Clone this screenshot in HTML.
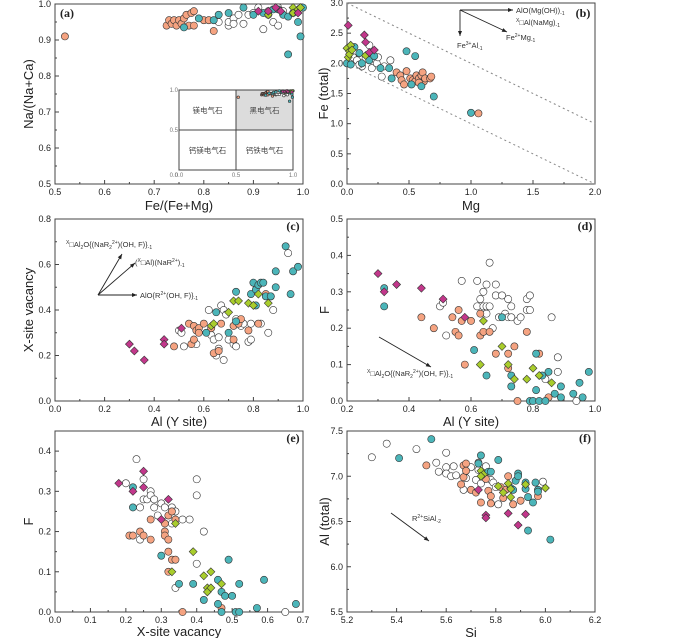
<!DOCTYPE html>
<html><head><meta charset="utf-8"><style>
html,body{margin:0;padding:0;background:#fff;}
svg{display:block;font-family:"Liberation Sans","Noto Sans CJK SC",sans-serif;}
</style></head><body>
<svg id="chart" width="700" height="638" viewBox="0 0 700 638" xmlns="http://www.w3.org/2000/svg"></svg>
<script>
// ---- Panel a: Fe/(Fe+Mg) vs Na/(Na+Ca)
const aSalmon=[[0.52,0.91],[0.725,0.94],[0.73,0.955],[0.735,0.945],[0.74,0.955],[0.745,0.94],[0.75,0.955],[0.755,0.945],[0.76,0.96],[0.765,0.97],[0.77,0.94],[0.775,0.975],[0.78,0.98],[0.78,0.94],[0.80,0.955],[0.81,0.955],[0.82,0.925]];
const aTeal=[[0.76,0.935],[0.79,0.96],[0.82,0.955],[0.83,0.97],[0.85,0.975],[0.88,0.99],[0.90,0.97],[0.92,0.975],[0.94,0.985],[0.95,0.985],[0.96,0.97],[0.97,0.965],[0.98,0.975],[0.99,0.95],[0.995,0.91],[0.97,0.86],[1.0,0.99]];
const aWhite=[[0.83,0.95],[0.85,0.94],[0.85,0.95],[0.86,0.96],[0.86,0.945],[0.87,0.97],[0.88,0.945],[0.89,0.97],[0.9,0.975],[0.91,0.99],[0.92,0.93],[0.93,0.97],[0.94,0.95],[0.95,0.94],[0.95,0.99],[0.96,0.98],[0.93,0.98]];
const aMagenta=[[0.91,0.98],[0.93,0.98],[0.945,0.99],[0.955,0.98],[0.99,0.975]];
const aGreen=[[0.93,0.97],[0.98,0.99],[0.99,0.985],[0.995,0.99],[0.98,0.975]];
// ---- Panel b: Mg vs Fe(total)
const bSalmon=[[0.4,1.85],[0.43,1.8],[0.44,1.72],[0.46,1.65],[0.48,1.87],[0.51,1.75],[0.53,1.72],[0.55,1.7],[0.56,1.8],[0.58,1.75],[0.6,1.8],[0.61,1.85],[0.62,1.7],[0.63,1.75],[0.67,1.75],[0.68,1.78],[0.58,1.68],[1.06,1.17]];
const bTeal=[[0.0,2.0],[0.03,1.98],[0.06,2.27],[0.1,2.17],[0.12,2.0],[0.18,2.05],[0.22,2.12],[0.27,1.92],[0.34,1.92],[0.36,1.75],[0.48,2.2],[0.55,2.12],[0.52,1.65],[0.6,1.62],[0.7,1.45],[1.0,1.18]];
const bWhite=[[0.05,2.1],[0.08,2.05],[0.12,1.95],[0.15,2.08],[0.2,1.92],[0.24,2.0],[0.28,1.78],[0.3,1.95],[0.35,2.05],[0.25,2.1],[0.18,2.3],[0.1,1.98]];
const bMagenta=[[0.01,2.63],[0.14,2.47],[0.15,2.35],[0.18,2.18],[0.22,2.22]];
const bGreen=[[0.0,2.25],[0.02,2.2],[0.01,2.1],[0.03,2.3],[0.02,2.15],[0.04,2.22],[0.15,2.13]];
// ---- Panel c: Al(Y) vs X-site vacancy
const cSalmon=[[0.48,0.24],[0.54,0.34],[0.55,0.25],[0.56,0.27],[0.56,0.33],[0.57,0.31],[0.58,0.32],[0.58,0.30],[0.60,0.34],[0.63,0.32],[0.64,0.21],[0.66,0.22],[0.67,0.34],[0.72,0.27],[0.72,0.33],[0.74,0.34],[0.75,0.36],[0.78,0.31],[0.82,0.34],[0.85,0.47]];
const cTeal=[[0.61,0.30],[0.65,0.39],[0.70,0.30],[0.73,0.35],[0.73,0.48],[0.79,0.47],[0.80,0.52],[0.81,0.49],[0.82,0.51],[0.83,0.52],[0.84,0.52],[0.81,0.42],[0.85,0.46],[0.87,0.46],[0.89,0.5],[0.89,0.57],[0.93,0.68],[0.95,0.47],[0.96,0.57],[0.98,0.59]];
const cWhite=[[0.50,0.31],[0.51,0.30],[0.52,0.24],[0.57,0.25],[0.62,0.40],[0.63,0.29],[0.64,0.27],[0.65,0.20],[0.66,0.28],[0.66,0.23],[0.67,0.42],[0.68,0.18],[0.68,0.40],[0.69,0.38],[0.70,0.27],[0.72,0.25],[0.73,0.24],[0.73,0.36],[0.75,0.33],[0.76,0.34],[0.78,0.26],[0.79,0.27],[0.79,0.34],[0.83,0.34],[0.86,0.30],[0.88,0.40],[0.87,0.46],[0.94,0.65]];
const cMagenta=[[0.30,0.25],[0.32,0.22],[0.36,0.18],[0.44,0.27],[0.44,0.25],[0.51,0.32]];
const cGreen=[[0.63,0.33],[0.64,0.34],[0.70,0.39],[0.72,0.44],[0.74,0.44],[0.78,0.43],[0.80,0.42],[0.82,0.47],[0.86,0.43]];
// ---- Panel d: Al(Y) vs F
const dSalmon=[[0.44,0.23],[0.48,0.20],[0.54,0.23],[0.55,0.19],[0.56,0.25],[0.56,0.18],[0.57,0.22],[0.58,0.10],[0.60,0.22],[0.63,0.24],[0.63,0.18],[0.64,0.19],[0.66,0.19],[0.68,0.13],[0.72,0.13],[0.72,0.09],[0.74,0.15],[0.75,0.0],[0.78,0.19],[0.82,0.13],[0.85,0.01]];
const dTeal=[[0.32,0.31],[0.32,0.26],[0.61,0.14],[0.65,0.07],[0.70,0.23],[0.73,0.07],[0.73,0.04],[0.79,0.0],[0.80,0.0],[0.81,0.13],[0.81,0.03],[0.82,0.0],[0.83,0.07],[0.84,0.0],[0.85,0.08],[0.87,0.02],[0.89,0.04],[0.89,0.01],[0.93,0.02],[0.95,0.05],[0.96,0.01],[0.98,0.08]];
const dWhite=[[0.50,0.26],[0.51,0.27],[0.52,0.18],[0.57,0.33],[0.62,0.33],[0.62,0.26],[0.63,0.28],[0.64,0.30],[0.64,0.26],[0.65,0.32],[0.65,0.24],[0.65,0.26],[0.66,0.38],[0.66,0.26],[0.67,0.20],[0.68,0.32],[0.68,0.29],[0.69,0.23],[0.70,0.29],[0.71,0.24],[0.72,0.28],[0.72,0.23],[0.73,0.26],[0.73,0.23],[0.75,0.22],[0.76,0.23],[0.78,0.28],[0.78,0.25],[0.79,0.29],[0.79,0.25],[0.84,0.06],[0.86,0.23],[0.88,0.12],[0.88,0.08],[0.94,0.0]];
const dMagenta=[[0.30,0.35],[0.32,0.30],[0.36,0.32],[0.44,0.31],[0.51,0.28],[0.58,0.23]];
const dGreen=[[0.64,0.22],[0.63,0.10],[0.70,0.15],[0.72,0.10],[0.74,0.06],[0.78,0.06],[0.80,0.09],[0.82,0.07],[0.86,0.05]];
// ---- Panel e: X-site vacancy vs F
const eSalmon=[[0.21,0.19],[0.22,0.19],[0.24,0.20],[0.25,0.19],[0.27,0.23],[0.27,0.18],[0.31,0.22],[0.31,0.20],[0.31,0.19],[0.32,0.18],[0.32,0.24],[0.33,0.25],[0.32,0.15],[0.33,0.13],[0.34,0.13],[0.32,0.10],[0.34,0.23],[0.36,0.0],[0.47,0.01]];
const eTeal=[[0.22,0.31],[0.22,0.26],[0.30,0.14],[0.35,0.07],[0.39,0.07],[0.42,0.03],[0.46,0.08],[0.46,0.02],[0.47,0.05],[0.47,0.0],[0.48,0.04],[0.49,0.13],[0.50,0.04],[0.51,0.0],[0.52,0.0],[0.52,0.07],[0.57,0.01],[0.59,0.08],[0.68,0.02]];
const eWhite=[[0.20,0.32],[0.23,0.38],[0.24,0.26],[0.24,0.18],[0.25,0.33],[0.25,0.28],[0.26,0.28],[0.27,0.30],[0.27,0.29],[0.28,0.28],[0.28,0.26],[0.29,0.24],[0.30,0.27],[0.31,0.26],[0.32,0.23],[0.33,0.26],[0.33,0.22],[0.34,0.25],[0.36,0.23],[0.38,0.23],[0.40,0.33],[0.40,0.29],[0.42,0.20],[0.40,0.12],[0.34,0.06],[0.65,0.0]];
const eMagenta=[[0.18,0.32],[0.22,0.30],[0.25,0.35],[0.25,0.31],[0.30,0.23],[0.32,0.28]];
const eGreen=[[0.34,0.22],[0.33,0.10],[0.39,0.15],[0.42,0.09],[0.43,0.06],[0.43,0.05],[0.44,0.06],[0.44,0.10],[0.47,0.07]];
// ---- Panel f: Si vs Al(total)
const fSalmon=[[5.52,7.12],[5.66,6.91],[5.67,6.99],[5.67,7.12],[5.68,7.14],[5.68,7.06],[5.70,6.85],[5.72,6.82],[5.74,6.71],[5.76,6.97],[5.77,6.84],[5.78,6.78],[5.78,6.70],[5.82,6.88],[5.83,6.76],[5.84,6.85],[5.85,7.00],[5.87,6.69],[5.90,6.73],[5.97,6.78]];
const fTeal=[[5.41,7.20],[5.54,7.41],[5.73,7.14],[5.74,7.23],[5.77,7.05],[5.78,7.05],[5.81,7.18],[5.86,6.87],[5.87,6.85],[5.88,6.95],[5.89,7.03],[5.89,7.00],[5.92,6.93],[5.92,6.86],[5.93,6.77],[5.95,6.71],[5.96,6.93],[5.97,6.85],[5.97,6.83],[5.93,6.40],[6.02,6.30]];
const fWhite=[[5.30,7.21],[5.36,7.36],[5.48,7.30],[5.56,7.15],[5.57,7.05],[5.60,7.26],[5.60,7.10],[5.60,7.03],[5.62,7.00],[5.63,7.11],[5.64,7.01],[5.67,6.85],[5.68,6.98],[5.70,7.10],[5.72,6.96],[5.73,7.15],[5.74,6.92],[5.76,7.11],[5.78,6.96],[5.79,6.93],[5.80,6.88],[5.81,6.69],[5.99,6.94],[5.73,7.07]];
const fMagenta=[[5.73,6.85],[5.76,6.57],[5.76,6.54],[5.85,6.59],[5.89,6.46],[5.92,6.58]];
const fGreen=[[5.74,7.06],[5.75,7.02],[5.74,7.00],[5.81,6.89],[5.83,6.82],[5.85,6.92],[5.86,6.86],[5.86,6.77],[5.92,6.91],[6.00,6.87]];
// tick label arrays
const aXTicks=[0.5,0.6,0.7,0.8,0.9,1.0], aYTicks=[0.5,0.6,0.7,0.8,0.9,1.0];
const bXTicks=[0,0.5,1.0,1.5,2.0], bYTicks=[0,0.5,1.0,1.5,2.0,2.5,3.0];
const cXTicks=[0,0.2,0.4,0.6,0.8,1.0], cYTicks=[0,0.2,0.4,0.6,0.8];
const dXTicks=[0.2,0.4,0.6,0.8,1.0], dYTicks=[0,0.1,0.2,0.3,0.4,0.5];
const eXTicks=[0,0.1,0.2,0.3,0.4,0.5,0.6,0.7], eYTicks=[0,0.1,0.2,0.3,0.4];
const fXTicks=[5.2,5.4,5.6,5.8,6.0,6.2], fYTicks=[5.5,6.0,6.5,7.0,7.5];

const NS="http://www.w3.org/2000/svg";
const svg=document.getElementById('chart');
function mk(tag,attrs,parent){const e=document.createElementNS(NS,tag);for(const k in attrs)e.setAttribute(k,attrs[k]);(parent||svg).appendChild(e);return e;}
function txt(s,x,y,size,anchor,parent,extra){const t=mk('text',Object.assign({x:x,y:y,'font-size':size,'text-anchor':anchor||'middle',fill:'#222'},extra||{}),parent);t.textContent=s;return t;}
const COL={salmon:'#f5a381',teal:'#4bb5b9',white:'#ffffff',magenta:'#c2378b',green:'#a9cd2c'};

function panel(name,P){
  const g=mk('g',{});
  
  
  const sx=v=>P.x0+(v-P.xmin)/(P.xmax-P.xmin)*(P.x1-P.x0);
  const sy=v=>P.y1-(v-P.ymin)/(P.ymax-P.ymin)*(P.y1-P.y0);
  P.sx=sx;P.sy=sy;P.g=g;
  const fr=mk('rect',{x:P.x0,y:P.y0,width:P.x1-P.x0,height:P.y1-P.y0,fill:'none',stroke:'#444','stroke-width':1},g);
  
  
  P.xt.forEach((v,i)=>{const x=sx(v);mk('line',{x1:x,x2:x,y1:P.y1,y2:P.y1-4,stroke:'#444'},g);
    const t=txt(v.toFixed(P.xd),x,P.y1+11,9,'middle',g);
    
    
    if(i<P.xt.length-1){const m=sx((v+P.xt[i+1])/2);mk('line',{x1:m,x2:m,y1:P.y1,y2:P.y1-2,stroke:'#444'},g);}});
  P.yt.forEach((v,i)=>{const y=sy(v);mk('line',{x1:P.x0,x2:P.x0+4,y1:y,y2:y,stroke:'#444'},g);
    const t=txt(v.toFixed(P.yd),P.x0-4,y+3,9,'end',g);
    
    
    const nv=i<P.yt.length-1?(v+P.yt[i+1])/2:(v+(v-P.yt[i-1])/2);
    if(nv<=P.ymax){const m=sy(nv);mk('line',{x1:P.x0,x2:P.x0+2,y1:m,y2:m,stroke:'#444'},g);}});
  const xl=txt(P.xlab,(P.x0+P.x1)/2,P.xly,13,'middle',g);
  
  
  const yl=txt(P.ylab,0,0,13,'middle',g,{transform:`translate(${P.ylx},${(P.y0+P.y1)/2}) rotate(-90)`});
  
  
  const pl=txt(P.tag,P.tx,P.ty,12,'middle',g,{'font-family':'Liberation Serif, serif','font-weight':'bold'});
  
  
  return P;
}
function circles(P,data,col,r,nm){data.forEach(d=>{const c=mk('circle',{cx:P.sx(d[0]),cy:P.sy(d[1]),r:r||3.6,fill:COL[col],stroke:'#333','stroke-width':0.6},P.g);
  
  });}
function diamonds(P,data,col,s,nm){s=s||4;data.forEach(d=>{const x=P.sx(d[0]),y=P.sy(d[1]);const p=mk('polygon',{points:`${x},${y-s} ${x+s},${y} ${x},${y+s} ${x-s},${y}`,fill:COL[col],stroke:'#333','stroke-width':0.6},P.g);
  
  });}
function series(P,w,s,t,m,gr){circles(P,w,'white');circles(P,s,'salmon');circles(P,t,'teal');diamonds(P,gr,'green');diamonds(P,m,'magenta');}
function arrow(g,x1,y1,x2,y2){mk('line',{x1:x1,y1:y1,x2:x2,y2:y2,stroke:'#222','stroke-width':0.9},g);
  const a=Math.atan2(y2-y1,x2-x1),L=5,W=2;
  mk('polygon',{points:`${x2},${y2} ${x2-L*Math.cos(a)+W*Math.sin(a)},${y2-L*Math.sin(a)-W*Math.cos(a)} ${x2-L*Math.cos(a)-W*Math.sin(a)},${y2-L*Math.sin(a)+W*Math.cos(a)}`,fill:'#222'},g);}
function note(g,html,x,y,anchor){const t=mk('text',{x:x,y:y,'font-size':7.5,fill:'#333','text-anchor':anchor||'start'},g);t.innerHTML=html;
  
  return t;}

// Panel a
const A=panel('panel-a',{x0:55,x1:303,y0:4,y1:184,xmin:0.5,xmax:1.0,ymin:0.5,ymax:1.0,xt:aXTicks,yt:aYTicks,xd:1,yd:1,xlab:'Fe/(Fe+Mg)',xly:210,ylab:'Na/(Na+Ca)',ylx:33,tag:'(a)',tx:67,ty:17});
series(A,aWhite,aSalmon,aTeal,aMagenta,aGreen);
// inset
const I={x0:179,x1:293,y0:90,y1:170,xmin:0,xmax:1,ymin:0,ymax:1};
I.sx=v=>I.x0+v*(I.x1-I.x0);I.sy=v=>I.y1-v*(I.y1-I.y0);
I.g=mk('g',{});


mk('rect',{x:I.x0,y:I.y0,width:I.x1-I.x0,height:I.y1-I.y0,fill:'#fff',stroke:'#444'},I.g);
mk('rect',{x:I.sx(0.5),y:I.y0,width:I.sx(1)-I.sx(0.5),height:I.sy(0.5)-I.y0,fill:'#dcdcdc'},I.g);
mk('line',{x1:I.sx(0.5),x2:I.sx(0.5),y1:I.y0,y2:I.y1,stroke:'#444'},I.g);
mk('line',{x1:I.x0,x2:I.x1,y1:I.sy(0.5),y2:I.sy(0.5),stroke:'#444'},I.g);
mk('rect',{x:I.x0,y:I.y0,width:I.x1-I.x0,height:I.y1-I.y0,fill:'none',stroke:'#444'},I.g);
[['镁电气石',0.25,0.75],['黑电气石',0.75,0.75],['钙镁电气石',0.25,0.25],['钙铁电气石',0.75,0.25]].forEach(l=>{const t=txt(l[0],I.sx(l[1]),I.sy(l[2])+3,7.5,'middle',I.g,{fill:'#444'});
  
  });
[0,0.5,1].forEach(v=>{txt(v.toFixed(1),I.sx(v),I.y1+7,6,'middle',I.g,{fill:'#777'});if(v>0)txt(v.toFixed(1),I.x0-1,I.sy(v)+2,6,'end',I.g,{fill:'#777'});});
txt('0.0',I.x0-1,I.y1+7,6,'end',I.g,{fill:'#777'});
[['salmon',aSalmon],['white',aWhite],['teal',aTeal],['green',aGreen],['magenta',aMagenta]].forEach(s=>circles(I,s[1],s[0],1.3,'inset-point'));

// Panel b
const B=panel('panel-b',{x0:347,x1:595,y0:3,y1:184,xmin:0,xmax:2,ymin:0,ymax:3,xt:bXTicks,yt:bYTicks,xd:1,yd:1,xlab:'Mg',xly:210,ylab:'Fe (total)',ylx:328,tag:'(b)',tx:583,ty:17});
mk('line',{x1:B.sx(0),y1:B.sy(3),x2:B.sx(2),y2:B.sy(1),stroke:'#888','stroke-dasharray':'2,3'},B.g);
mk('line',{x1:B.sx(0),y1:B.sy(2),x2:B.sx(2),y2:B.sy(0),stroke:'#888','stroke-dasharray':'2,3'},B.g);
series(B,bWhite,bSalmon,bTeal,bMagenta,bGreen);
arrow(B.g,460,10,513,10);arrow(B.g,460,10,460,36);arrow(B.g,460,10,507,32);
note(B.g,'AlO(Mg(OH))<tspan font-size="5" dy="2">-1</tspan>',516,13);
note(B.g,'<tspan font-size="5" dy="-3">X</tspan><tspan dy="3">□Al(NaMg)</tspan><tspan font-size="5" dy="2">-1</tspan>',516,25);
note(B.g,'Fe<tspan font-size="5" dy="-3">2+</tspan><tspan dy="3">Mg</tspan><tspan font-size="5" dy="2">-1</tspan>',506,40);
note(B.g,'Fe<tspan font-size="5" dy="-3">3+</tspan><tspan dy="3">Al</tspan><tspan font-size="5" dy="2">-1</tspan>',457,48);

// Panel c
const C=panel('panel-c',{x0:55,x1:303,y0:219,y1:401,xmin:0,xmax:1,ymin:0,ymax:0.8,xt:cXTicks,yt:cYTicks,xd:1,yd:1,xlab:'Al (Y site)',xly:426,ylab:'X-site vacancy',ylx:33,tag:'(c)',tx:293,ty:230});
series(C,cWhite,cSalmon,cTeal,cMagenta,cGreen);
arrow(C.g,98,295,122,254);arrow(C.g,98,295,135,263);arrow(C.g,98,295,137,295);
note(C.g,'<tspan font-size="5" dy="-3">X</tspan><tspan dy="3">□Al</tspan><tspan font-size="5" dy="2">2</tspan><tspan dy="-2">O{(NaR</tspan><tspan font-size="5" dy="2">2</tspan><tspan font-size="5" dy="-5">2+</tspan><tspan dy="3">)(OH, F)}</tspan><tspan font-size="5" dy="2">-1</tspan>',66,247);
note(C.g,'(<tspan font-size="5" dy="-3">X</tspan><tspan dy="3">□Al)(NaR</tspan><tspan font-size="5" dy="-3">2+</tspan><tspan dy="3">)</tspan><tspan font-size="5" dy="2">-1</tspan>',135,265);
note(C.g,'AlO{R<tspan font-size="5" dy="-3">2+</tspan><tspan dy="3">(OH, F)}</tspan><tspan font-size="5" dy="2">-1</tspan>',140,298);

// Panel d
const D=panel('panel-d',{x0:347,x1:595,y0:219,y1:401,xmin:0.2,xmax:1.0,ymin:0,ymax:0.5,xt:dXTicks,yt:dYTicks,xd:1,yd:1,xlab:'Al (Y site)',xly:426,ylab:'F',ylx:329,tag:'(d)',tx:585,ty:230});
series(D,dWhite,dSalmon,dTeal,dMagenta,dGreen);
arrow(D.g,379,337,431,367);
note(D.g,'<tspan font-size="5" dy="-3">X</tspan><tspan dy="3">□Al</tspan><tspan font-size="5" dy="2">2</tspan><tspan dy="-2">O{(NaR</tspan><tspan font-size="5" dy="2">2</tspan><tspan font-size="5" dy="-5">2+</tspan><tspan dy="3">)(OH, F)}</tspan><tspan font-size="5" dy="2">-1</tspan>',367,376);

// Panel e
const E=panel('panel-e',{x0:55,x1:303,y0:431,y1:612,xmin:0,xmax:0.7,ymin:0,ymax:0.45,xt:eXTicks,yt:eYTicks,xd:1,yd:1,xlab:'X-site vacancy',xly:636,ylab:'F',ylx:33,tag:'(e)',tx:293,ty:442});
series(E,eWhite,eSalmon,eTeal,eMagenta,eGreen);

// Panel f
const F=panel('panel-f',{x0:347,x1:595,y0:431,y1:612,xmin:5.2,xmax:6.2,ymin:5.5,ymax:7.5,xt:fXTicks,yt:fYTicks,xd:1,yd:1,xlab:'Si',xly:637,ylab:'Al (total)',ylx:329,tag:'(f)',tx:585,ty:442});
series(F,fWhite,fSalmon,fTeal,fMagenta,fGreen);
arrow(F.g,391,513,429,541);
note(F.g,'R<tspan font-size="5" dy="-3">2+</tspan><tspan dy="3">SiAl</tspan><tspan font-size="5" dy="2">-2</tspan>',412,521);
</script>
</body></html>
